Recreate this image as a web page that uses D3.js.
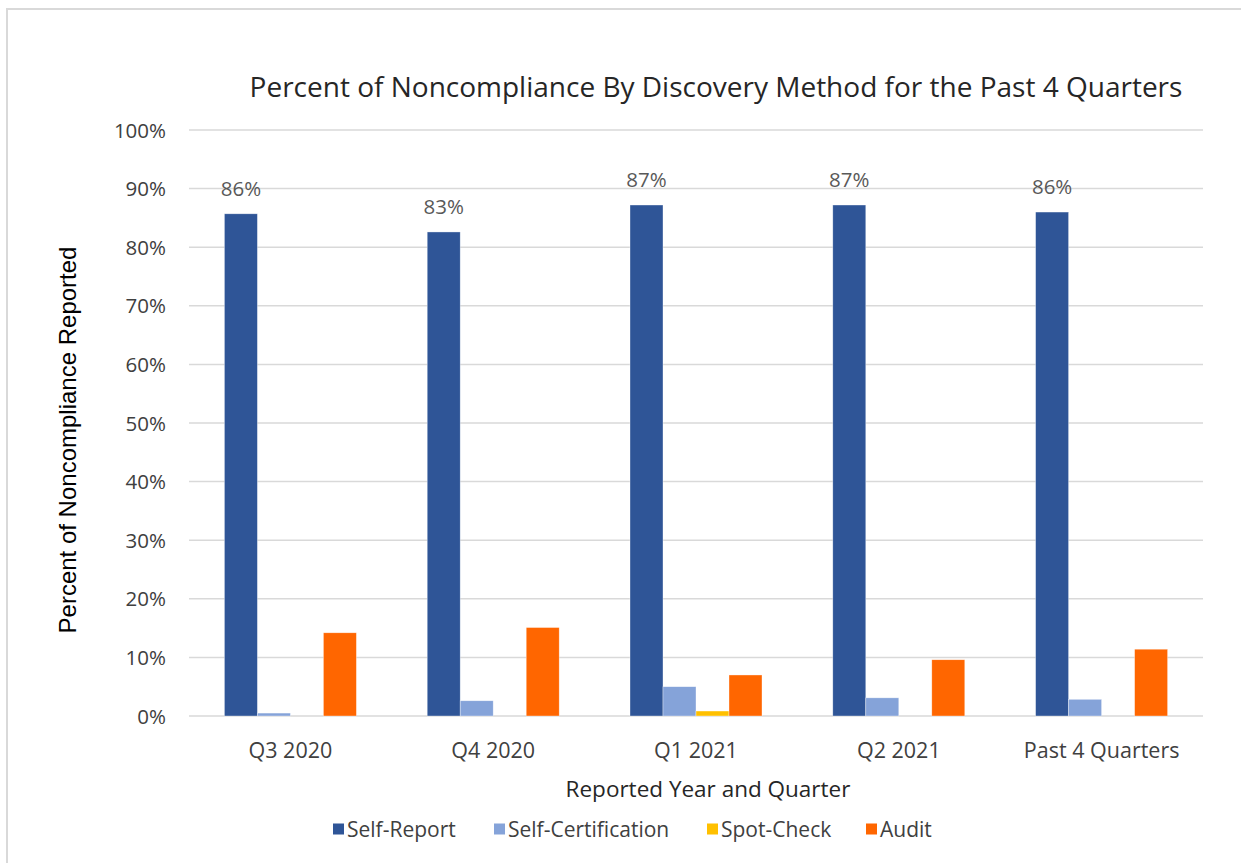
<!DOCTYPE html>
<html><head><meta charset="utf-8">
<script src="https://cdn.jsdelivr.net/npm/d3@7"></script>
<style>body{margin:0;background:#fff}svg{display:block}text{font-family:"Open Sans",sans-serif}</style>
</head><body>
<svg id="c" width="1241" height="863"></svg>
<script>
const categories = ["Q3 2020","Q4 2020","Q1 2021","Q2 2021","Past 4 Quarters"];
const seriesNames = ["Self-Report","Self-Certification","Spot-Check","Audit"];
const selfReport = [85.7, 82.6, 87.2, 87.2, 86.0];
const selfCert = [0.5, 2.6, 5.0, 3.1, 2.85];
const spotCheck = [0, 0, 0.85, 0, 0];
const audit = [14.2, 15.1, 7.0, 9.6, 11.4];
const selfReportLabels = ["86%","83%","87%","87%","86%"];
const yTicks = [0,10,20,30,40,50,60,70,80,90,100];
const colors = ["#2F5597","#85A3D9","#FFC000","#FF6600"];
const seriesValues = [selfReport, selfCert, spotCheck, audit];

const svg = d3.select("#c");
svg.append("rect").attr("x",7).attr("y",9).attr("width",1250).attr("height",870)
  .attr("fill","none").attr("stroke","#d9d9d9").attr("stroke-width",2);

const L=189, R=1203, T=130, B=716;
const x = d3.scaleBand().domain(categories).range([L,R]);
const x1 = d3.scaleBand().domain(seriesNames).range([0,132]);
const y = d3.scaleLinear().domain([0,100]).range([B,T]);

svg.append("g").selectAll("line").data(yTicks).join("line")
  .attr("x1",L).attr("x2",R).attr("y1",d=>y(d)).attr("y2",d=>y(d))
  .attr("stroke","#d9d9d9").attr("stroke-width",1.5);

const yAxis = d3.axisLeft(y).tickValues(yTicks).tickFormat(d=>d+"%").tickSize(0).tickPadding(23);
const yg = svg.append("g").attr("transform",`translate(${L},0)`).call(yAxis);
yg.select(".domain").remove();
yg.selectAll("text").attr("font-size",20.5).attr("fill","#404040").attr("font-family","Open Sans").attr("dy","0.35em");

const groups = svg.append("g").selectAll("g").data(categories).join("g")
  .attr("transform",d=>`translate(${x(d)+x.bandwidth()/2-66},0)`);
groups.selectAll("rect").data((c,i)=>seriesNames.map((s,j)=>({s,v:seriesValues[j][i],j})))
  .join("rect")
  .attr("x",d=>x1(d.s)).attr("width",x1.bandwidth())
  .attr("y",d=>y(d.v)).attr("height",d=>B-y(d.v))
  .attr("fill",d=>colors[d.j]).attr("stroke","#fff").attr("stroke-width",0.6).attr("stroke-opacity",0.6);

groups.append("text").text((c,i)=>selfReportLabels[i])
  .attr("x",x1("Self-Report")+x1.bandwidth()/2)
  .attr("y",(c,i)=>y(selfReport[i])-18)
  .attr("text-anchor","middle").attr("font-size",20.5).attr("fill","#595959");

const xAxis = d3.axisBottom(x).tickSize(0);
const xg = svg.append("g").attr("transform",`translate(0,${B})`).call(xAxis);
xg.select(".domain").remove();
xg.selectAll("text").attr("y",42).attr("dy",0).attr("font-size",21.5).attr("fill","#404040").attr("font-family","Open Sans");

svg.append("text").text("Percent of Noncompliance By Discovery Method for the Past 4 Quarters")
  .attr("x",716).attr("y",97).attr("text-anchor","middle").attr("font-size",28).attr("fill","#262626");
svg.append("text").text("Reported Year and Quarter")
  .attr("x",708).attr("y",797).attr("text-anchor","middle").attr("font-size",22.5).attr("fill","#262626");
svg.append("text").text("Percent of Noncompliance Reported")
  .attr("transform","translate(76,440) rotate(-90)").attr("text-anchor","middle")
  .attr("font-size",24).style("font-family","Liberation Sans").attr("fill","#000");

const legX = [333,494,707,866];
const leg = svg.append("g").selectAll("g").data(seriesNames).join("g")
  .attr("transform",(d,i)=>`translate(${legX[i]},829)`);
leg.append("rect").attr("x",0).attr("y",-5.5).attr("width",11).attr("height",11).attr("fill",(d,i)=>colors[i]);
leg.append("text").text(d=>d).attr("x",14).attr("y",7.5).attr("font-size",21).attr("fill","#404040");
</script>
</body></html>
